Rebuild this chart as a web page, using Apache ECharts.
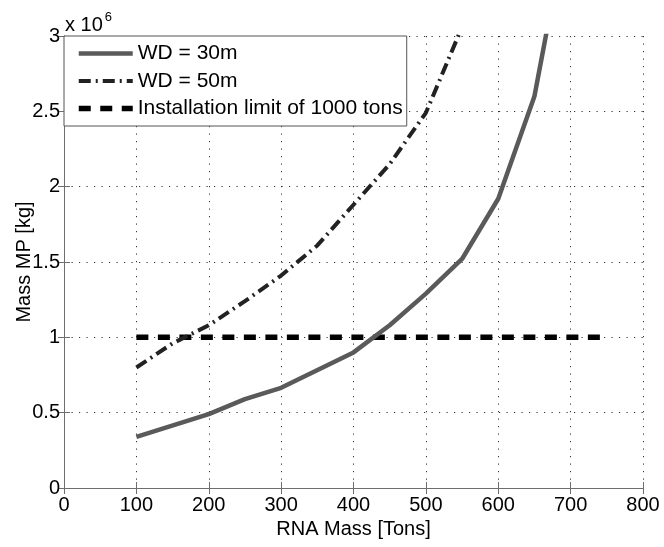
<!DOCTYPE html>
<html>
<head>
<meta charset="utf-8">
<script src="https://cdn.jsdelivr.net/npm/echarts@6/dist/echarts.min.js"></script>
<style>
html,body{margin:0;padding:0;background:#fff;}
#chart{width:664px;height:547px;}
</style>
</head>
<body>
<div id="chart"></div>
<script>
// RNA mass [tons] and monopile mass [x 10^6 kg]
var xWD30 = [100, 200, 250, 300, 400, 450, 500, 550, 600, 650, 700];
var yWD30 = [0.34, 0.49, 0.59, 0.665, 0.90, 1.08, 1.29, 1.52, 1.92, 2.60, 3.87];
var xWD50 = [100, 150, 200, 250, 300, 350, 400, 450, 500, 550];
var yWD50 = [0.80, 0.96, 1.08, 1.24, 1.41, 1.61, 1.88, 2.15, 2.49, 3.06];
var xLimit = [100, 750];
var yLimit = [1, 1];
var seriesNames = ['WD = 30m', 'WD = 50m', 'Installation limit of 1000 tons'];
var xTicks = [0, 100, 200, 300, 400, 500, 600, 700, 800];
var yTicks = [0, 0.5, 1, 1.5, 2, 2.5, 3];

function pairs(xs, ys) { return xs.map(function (x, i) { return [x, ys[i]]; }); }

var font = 'Liberation Sans, Arial, Helvetica, sans-serif';
var frameColor = '#6e6e6e';
var gridLine = { show: true, lineStyle: { color: '#333', width: 1, type: [1.2, 6.3] } };
var lineWidths = [4.5, 4, 5.5];

var chart = echarts.init(document.getElementById('chart'), null, { renderer: 'canvas' });
chart.setOption({
  animation: false,
  backgroundColor: '#fff',
  grid: { left: 64, right: 21, top: 36, bottom: 59, containLabel: false, outerBoundsMode: 'none' },
  xAxis: [{
    type: 'value', min: xTicks[0], max: xTicks[xTicks.length - 1], interval: 100,
    name: 'RNA Mass [Tons]', nameLocation: 'middle', nameGap: 31, nameMoveOverlap: false,
    nameTextStyle: { fontSize: 20, color: '#000', fontFamily: font },
    axisLine: { show: true, lineStyle: { color: frameColor, width: 1 } },
    axisTick: { show: true, inside: true, length: 6, lineStyle: { color: frameColor } },
    axisLabel: { fontSize: 20, color: '#000', fontFamily: font, margin: 7 },
    splitLine: gridLine
  }, {
    type: 'value', position: 'top', min: xTicks[0], max: xTicks[xTicks.length - 1], interval: 100,
    axisLine: { show: true, lineStyle: { color: frameColor, width: 1 } },
    axisTick: { show: true, inside: true, length: 6, lineStyle: { color: frameColor } },
    axisLabel: { show: false }, splitLine: { show: false }
  }],
  yAxis: [{
    type: 'value', min: yTicks[0], max: yTicks[yTicks.length - 1], interval: 0.5,
    name: 'Mass MP [kg]', nameLocation: 'middle', nameGap: 30, nameRotate: 90, nameMoveOverlap: false,
    nameTextStyle: { fontSize: 20, color: '#000', fontFamily: font },
    axisLine: { show: true, lineStyle: { color: frameColor, width: 1 } },
    axisTick: { show: true, inside: true, length: 6, lineStyle: { color: frameColor } },
    axisLabel: { fontSize: 20, color: '#000', fontFamily: font, margin: 4 },
    splitLine: gridLine
  }, {
    type: 'value', position: 'right', min: yTicks[0], max: yTicks[yTicks.length - 1], interval: 0.5,
    axisLine: { show: true, lineStyle: { color: frameColor, width: 1 } },
    axisTick: { show: true, inside: true, length: 6, lineStyle: { color: frameColor } },
    axisLabel: { show: false }, splitLine: { show: false }
  }],
  legend: {
    show: true, orient: 'vertical', left: 64, top: 36,
    padding: [7, 4, 7, 12], itemGap: 6.5, itemWidth: 54, itemHeight: 21,
    backgroundColor: '#fff', borderColor: '#555', borderWidth: 1, borderRadius: 0,
    textStyle: { fontSize: 21, color: '#000', fontFamily: font },
    itemStyle: { opacity: 0 },
    data: seriesNames.map(function (n, i) {
      return { name: n, itemStyle: { opacity: 0 }, lineStyle: { width: lineWidths[i] } };
    })
  },
  graphic: [{
    type: 'text', left: 65, top: 11, z: 10,
    style: {
      text: '{a|x 10}{b|6}', font: '20px ' + font, fill: '#000',
      rich: {
        a: { fontSize: 20, fontFamily: font, fill: '#000', verticalAlign: 'bottom', lineHeight: 24 },
        b: { fontSize: 13, fontFamily: font, fill: '#000', verticalAlign: 'top', lineHeight: 24, padding: [0, 0, 12, 2] }
      }
    }
  }],
  series: [{
    name: seriesNames[0], type: 'line', data: pairs(xWD30, yWD30),
    showSymbol: false, symbol: 'none', clip: true, z: 3,
    lineStyle: { color: '#5a5a5a', width: lineWidths[0], type: 'solid' },
    itemStyle: { color: '#5a5a5a' }
  }, {
    name: seriesNames[1], type: 'line', data: pairs(xWD50, yWD50),
    showSymbol: false, symbol: 'none', clip: true, z: 3,
    lineStyle: { color: '#222', width: lineWidths[1], type: [12, 5, 2, 5] },
    itemStyle: { color: '#222' }
  }, {
    name: seriesNames[2], type: 'line', data: pairs(xLimit, yLimit),
    showSymbol: false, symbol: 'none', clip: true, z: 2,
    lineStyle: { color: '#000', width: lineWidths[2], type: [12, 9.5] },
    itemStyle: { color: '#000' }
  }]
});
</script>
</body>
</html>
